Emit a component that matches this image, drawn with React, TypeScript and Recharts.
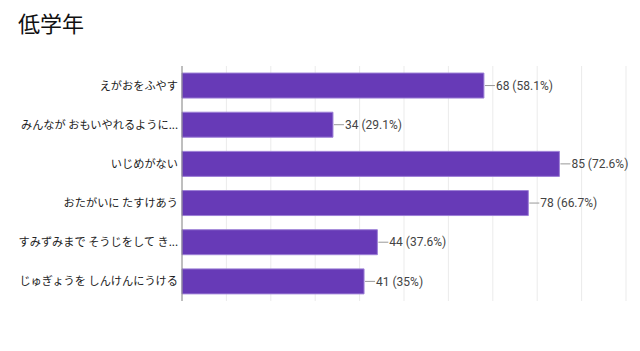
import { BarChart, Bar, XAxis, YAxis, CartesianGrid, LabelList } from "recharts";

const categories = [
  "えがおをふやす",
  "みんなが おもいやれるように...",
  "いじめがない",
  "おたがいに たすけあう",
  "すみずみまで そうじをして き...",
  "じゅぎょうを しんけんにうける",
];
const counts = [68, 34, 85, 78, 44, 41];
const percents = ["58.1", "29.1", "72.6", "66.7", "37.6", "35"];
const xTicks = [0, 10, 20, 30, 40, 50, 60, 70, 80, 90, 100];

const data = categories.map((name, i) => ({
  name,
  value: counts[i],
  label: `${counts[i]} (${percents[i]}%)`,
}));

const ValueLabel = (props: any) => {
  const { x, y, width, height, value } = props;
  const end = x + width;
  const cy = y + height / 2;
  return (
    <g>
      <line x1={end + 1} y1={cy} x2={end + 11} y2={cy} stroke="#999" strokeWidth={1} />
      <text
        x={end + 12}
        y={cy}
        dy="0.35em"
        fontSize={12}
        fill="#444"
        fontFamily="'Liberation Sans Narrow', 'Roboto', sans-serif"
      >
        {value}
      </text>
    </g>
  );
};

const CategoryTick = (props: any) => {
  const { x, y, payload } = props;
  return (
    <text
      x={x + 4}
      y={y}
      dy="0.35em"
      textAnchor="end"
      fontSize={11.2}
      fill="#222"
      fontFamily="'Noto Sans CJK JP', sans-serif"
    >
      {payload.value}
    </text>
  );
};

export default function App() {
  return (
    <div style={{ position: "absolute", left: 0, top: 0, width: 640, height: 351, background: "#fff" }}>
      <div
        style={{
          position: "absolute",
          left: 18,
          top: 6,
          fontSize: 22,
          color: "#111",
          fontFamily: "'Noto Sans CJK JP', sans-serif",
        }}
      >
        低学年
      </div>
      <BarChart
        width={640}
        height={351}
        data={data}
        layout="vertical"
        margin={{ top: 66, right: 14, bottom: 50, left: 0 }}
        barCategoryGap="18%"
      >
        <CartesianGrid horizontal={false} stroke="#ebebeb" />
        <XAxis type="number" domain={[0, 100]} ticks={xTicks} hide />
        <YAxis
          type="category"
          dataKey="name"
          width={182}
          tickLine={false}
          axisLine={{ stroke: "#888" }}
          tick={CategoryTick}
        />
        <Bar dataKey="value" fill="#673ab7" stroke="#9c7fd6" strokeWidth={1} isAnimationActive={false}>
          <LabelList dataKey="label" content={ValueLabel} />
        </Bar>
      </BarChart>
    </div>
  );
}
